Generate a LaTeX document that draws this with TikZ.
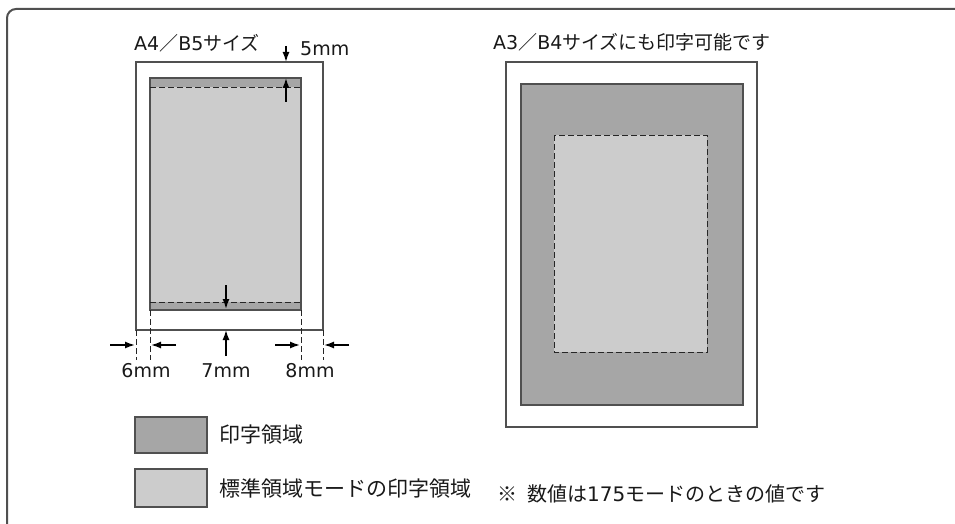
\documentclass[tikz,border=0pt]{standalone}
\usepackage{fontspec}
\setmainfont{DejaVu Sans}
\newfontfamily\cjk{Noto Sans CJK JP}
\usetikzlibrary{calc, arrows.meta}
\definecolor{printgray}{HTML}{A6A6A6}
\definecolor{stdgray}{HTML}{CCCCCC}
\definecolor{edgegray}{HTML}{505050}
\tikzset{
  sheet/.style={draw=edgegray, line width=1.5pt, fill=white},
  printarea/.style={draw=edgegray, line width=1.2pt, fill=printgray},
  stdarea/.style={fill=stdgray},
  guide/.style={draw=black!85, line width=0.9pt, dash pattern=on 6pt off 3pt},
  dimarrow/.style={line width=1.5pt, -{Latex[length=10pt,width=7pt]}},
  lbl/.style={inner sep=0pt, text=black!90, font=\fontsize{19}{22}\selectfont},
  leglbl/.style={lbl, font=\fontsize{21}{24}\selectfont}
}
\begin{document}
\begin{tikzpicture}[x=1pt, y=-1pt]
        \useasboundingbox (0,0) rectangle (955,524);
        \clip (0,0) rectangle (955,524);

        % outer frame
        \draw[edgegray, line width=2pt, rounded corners=9pt] (7,540) -- (7,9) -- (970,9);

        % A4/B5 sheet
        \coordinate (A4tl) at (136,62);
        \coordinate (A4br) at (323,330);
        \coordinate (Ptl) at (150,78);
        \coordinate (Pbr) at (301,310);

        \draw[sheet] (A4tl) rectangle (A4br);
        \fill[printgray] (Ptl) rectangle (Pbr);
        \fill[stdarea] (150,87) rectangle (301,302);
        \draw[edgegray, line width=1.2pt] (Ptl) rectangle (Pbr);
        \draw[guide] (150,87) -- (301,87);
        \draw[guide] (150,302) -- (301,302);

        \node[lbl, anchor=west] (a4title) at (134,43) {A4{\cjk／}B5{\cjk サイズ}};

        % top margin
        \coordinate (t0) at (286,46);
        \coordinate (t1) at (286,62);
        \coordinate (t2) at (286,102);
        \coordinate (t3) at (286,78);
        \draw[dimarrow] (t0) -- (t1);
        \draw[dimarrow] (t2) -- (t3);
        \node[lbl, anchor=west] (top5) at (300,49) {5mm};

        % bottom margin
        \coordinate (b0) at (226,285);
        \coordinate (b1) at (226,309);
        \coordinate (b2) at (226,356);
        \coordinate (b3) at (226,330);
        \draw[dimarrow] (b0) -- (b1);
        \draw[dimarrow] (b2) -- (b3);

        % side margins
        \draw[guide] (136,330) -- (136,360);
        \draw[guide] (150,310) -- (150,360);
        \draw[guide] (301,310) -- (301,360);
        \draw[guide] (323,330) -- (323,360);

        \coordinate (l0) at (110,345);
        \coordinate (l1) at (135,345);
        \coordinate (l2) at (176,345);
        \coordinate (l3) at (151,345);
        \coordinate (r0) at (275,345);
        \coordinate (r1) at (300,345);
        \coordinate (r2) at (349,345);
        \coordinate (r3) at (324,345);
        \draw[dimarrow] (l0) -- (l1);
        \draw[dimarrow] (l2) -- (l3);
        \draw[dimarrow] (r0) -- (r1);
        \draw[dimarrow] (r2) -- (r3);

        \node[lbl] (left6) at (146,371) {6mm};
        \node[lbl] (bot7) at (226,371) {7mm};
        \node[lbl] (right8) at (310,371) {8mm};

        % A3/B4 sheet
        \draw[sheet] (506,62) rectangle (757,427);
        \draw[printarea] (521,84) rectangle (743,405);
        \filldraw[stdarea, guide] (554,135) rectangle (707,352);
        \node[lbl] (a3title) at (632,42) {A3{\cjk／}B4{\cjk サイズにも印字可能です}};

        % legend
        \draw[printarea] (135,417) rectangle (207,453);
        \draw[edgegray, line width=1.2pt, fill=stdgray] (135,469) rectangle (207,507);
        \node[leglbl, anchor=west] (legdark) at (219,435) {\cjk 印字領域};
        \node[leglbl, anchor=west] (leglight) at (219,488) {\cjk 標準領域モードの印字領域};

        % note
        \node[lbl, font=\fontsize{20}{24}\selectfont, anchor=west] (note) at (497,494)
          {{\cjk ※}\hspace{10pt}{\cjk 数値は}175{\cjk モードのときの値です}};
    \end{tikzpicture}
\end{document}
